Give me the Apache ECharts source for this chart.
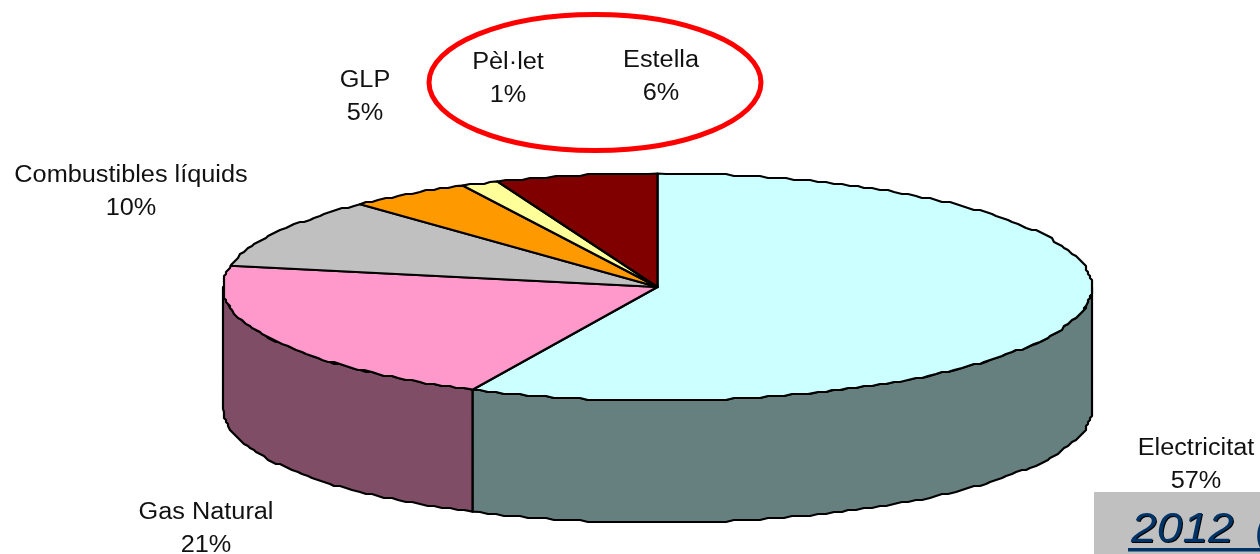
<!DOCTYPE html>
<html>
<head>
<meta charset="utf-8">
<style>
html, body { margin: 0; padding: 0; background: #fff; }
#chart { width: 1260px; height: 554px; }
</style>
<script src="https://cdn.jsdelivr.net/npm/echarts@6/dist/echarts.min.js"></script>
</head>
<body>
<div id="chart"></div>
<script>
// quota per font d'energia, llegida del grafic
const categories = ['Electricitat', 'Gas Natural', 'Combustibles líquids', 'GLP', 'Pèl·let', 'Estella'];
const shares = [57, 21, 10, 4.6, 1.4, 6];
const topColors = ['#CCFFFF', '#FF99CC', '#C0C0C0', '#FF9900', '#FFFF99', '#800000'];
const sideColors = ['#668080', '#804D66', '#606060', '#804D00', '#80804D', '#400000'];
const labelPos = [[1196, 465], [206, 529], [131, 192], [365, 97], [508, 79], [661, 77]];

const cx = 657.5, cy = 287, rx = 434.5, ry = 113.5, depth = 122;
const total = shares.reduce((a, b) => a + b, 0);

function pt(t, dy) {
    return [cx + rx * Math.sin(t), cy + (dy || 0) - ry * Math.cos(t)];
}
// el contorn de l'original es una mica esglaonat, per aixo l'arrodoniment
function arc(a, b, dy) {
    let pts = [];
    let n = Math.max(2, Math.ceil(Math.abs(b - a) / 0.02));
    for (let i = 0; i <= n; i++) {
        let p = pt(a + (b - a) * i / n, dy);
        if (i > 0 && i < n) p = [Math.round(p[0] / 2) * 2, Math.round(p[1] / 2) * 2];
        pts.push(p);
    }
    return pts;
}
function angles(idx) {
    let before = 0;
    for (let i = 0; i < idx; i++) before += shares[i];
    return [before / total * Math.PI * 2, (before + shares[idx]) / total * Math.PI * 2];
}

const chart = echarts.init(document.getElementById('chart'), null, { renderer: 'canvas' });
const seriesData = categories.map((c, i) => ({ name: c, value: [i, shares[i]] }));

chart.setOption({
    animation: false,
    series: [
        {
            // costat del cilindre, nomes la meitat de davant
            type: 'custom',
            coordinateSystem: 'none',
            silent: true,
            z: 1,
            data: seriesData,
            renderItem: (params, api) => {
                const [a, b] = angles(api.value(0));
                const s = Math.max(a, Math.PI / 2), e = Math.min(b, Math.PI * 1.5);
                if (e <= s) return null;
                return {
                    type: 'polygon',
                    shape: { points: arc(s, e, 0).concat(arc(e, s, depth)) },
                    style: { fill: sideColors[api.value(0)], stroke: '#000', lineWidth: 2.2, lineJoin: 'round' }
                };
            }
        },
        {
            // cara de dalt
            type: 'custom',
            coordinateSystem: 'none',
            silent: true,
            z: 2,
            data: seriesData,
            renderItem: (params, api) => {
                const [a, b] = angles(api.value(0));
                return {
                    type: 'polygon',
                    shape: { points: [[cx, cy]].concat(arc(a, b, 0)) },
                    style: { fill: topColors[api.value(0)], stroke: '#000', lineWidth: 2.2, lineJoin: 'round' }
                };
            }
        },
        {
            // etiquetes: nom i percentatge
            type: 'custom',
            coordinateSystem: 'none',
            silent: true,
            z: 4,
            data: seriesData,
            renderItem: (params, api) => {
                const i = api.value(0);
                return {
                    type: 'text',
                    x: labelPos[i][0],
                    y: labelPos[i][1],
                    scaleX: 1.1,
                    style: {
                        text: categories[i] + '\n' + Math.round(shares[i]) + '%',
                        font: '23px "Liberation Sans"',
                        lineHeight: 33,
                        fill: '#111',
                        align: 'center',
                        verticalAlign: 'middle'
                    }
                };
            }
        }
    ],
    graphic: [
        {
            type: 'ellipse',
            z: 5,
            shape: { cx: 595, cy: 82.5, rx: 166, ry: 68 },
            style: { fill: 'none', stroke: '#FF0000', lineWidth: 5 }
        },
        {
            type: 'rect',
            z: 3,
            shape: { x: 1094, y: 492, width: 166, height: 62 },
            style: { fill: '#C0C0C0' }
        },
        {
            type: 'text',
            z: 6,
            x: 1132,
            y: 531,
            scaleX: 1.1,
            style: {
                text: '2012',
                font: 'italic 42px "Liberation Sans"',
                fill: '#000',
                verticalAlign: 'middle'
            }
        },
        {
            type: 'text',
            z: 7,
            x: 1131,
            y: 530,
            scaleX: 1.1,
            style: {
                text: '2012',
                font: 'italic 42px "Liberation Sans"',
                fill: '#003366',
                verticalAlign: 'middle'
            }
        },
        {
            // el text continua pero la imatge el talla aqui
            type: 'text',
            z: 7,
            x: 1255,
            y: 530,
            scaleX: 1.1,
            style: {
                text: '(',
                font: 'italic 42px "Liberation Sans"',
                fill: '#003366',
                verticalAlign: 'middle'
            }
        },
        {
            type: 'rect',
            z: 8,
            shape: { x: 1128, y: 548, width: 132, height: 3.5 },
            style: { fill: '#003366' }
        }
    ]
});
</script>
</body>
</html>
